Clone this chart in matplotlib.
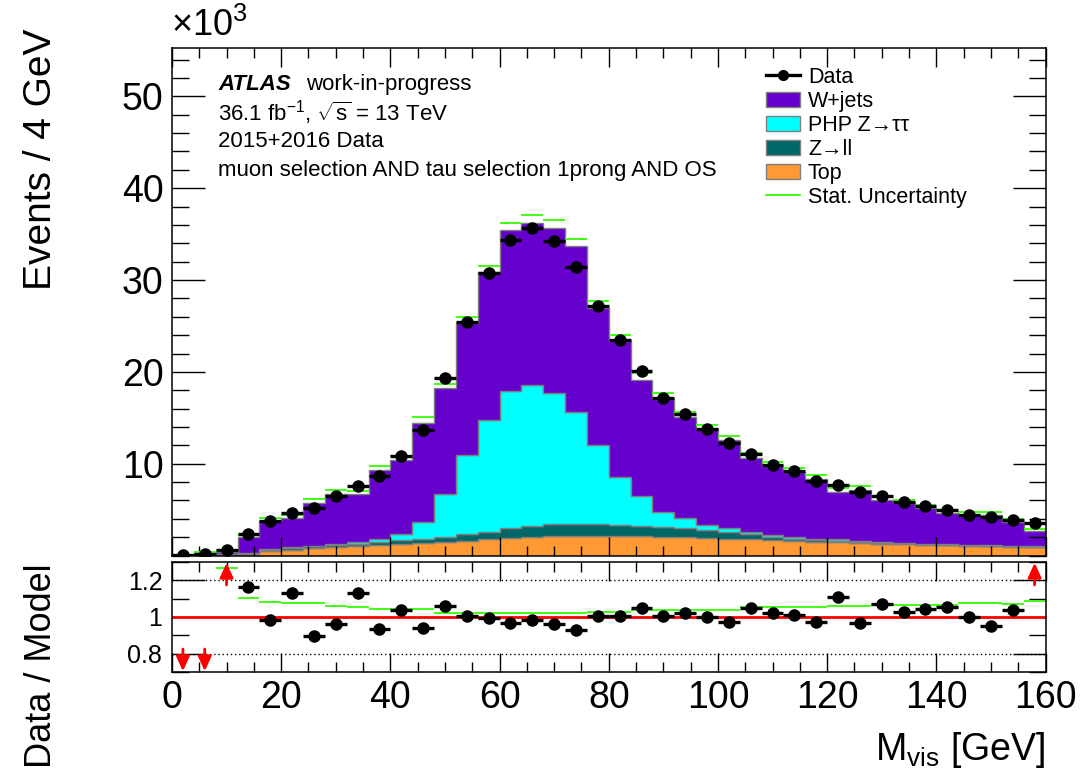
import numpy as np
import matplotlib
matplotlib.use("Agg")
import matplotlib.pyplot as plt
from matplotlib.ticker import MultipleLocator, FixedLocator
from matplotlib.lines import Line2D
from matplotlib.patches import Patch

plt.rcParams['font.family'] = ['Liberation Sans', 'DejaVu Sans']
plt.rcParams['mathtext.fontset'] = 'custom'
plt.rcParams['mathtext.rm'] = 'Liberation Sans'
plt.rcParams['mathtext.it'] = 'Liberation Sans:italic'

# M_vis binning: 40 bins of 4 GeV
edges = np.arange(0, 164, 4)
centers = 0.5 * (edges[:-1] + edges[1:])

# events in units of 10^3
data = [0.02, 0.13, 0.60, 2.36, 3.73, 4.64, 5.18, 6.45, 7.53, 8.70,
        10.79, 13.62, 19.32, 25.47, 30.73, 34.35, 35.62, 34.24, 31.38, 27.17,
        23.48, 20.11, 17.14, 15.43, 13.77, 12.23, 11.09, 9.89, 9.16, 8.15,
        7.68, 6.88, 6.45, 5.84, 5.36, 4.92, 4.46, 4.21, 3.84, 3.55]

top = [0.0, 0.0, 0.05, 0.12, 0.5, 0.65, 0.8, 0.95, 1.05, 1.15,
       1.3, 1.4, 1.5, 1.6, 1.75, 1.95, 2.05, 2.1, 2.15, 2.15,
       2.15, 2.1, 2.05, 2.0, 1.95, 1.85, 1.8, 1.7, 1.6, 1.5,
       1.45, 1.35, 1.3, 1.25, 1.15, 1.1, 1.05, 1.0, 0.95, 0.9]

zll = [0.01, 0.02, 0.05, 0.12, 0.15, 0.18, 0.2, 0.22, 0.25, 0.3,
       0.35, 0.45, 0.55, 0.7, 0.85, 1.05, 1.2, 1.3, 1.3, 1.25,
       1.2, 1.15, 1.1, 1.0, 0.85, 0.75, 0.55, 0.35, 0.25, 0.2,
       0.15, 0.12, 0.1, 0.1, 0.1, 0.08, 0.08, 0.07, 0.07, 0.06]

ztautau = [0.0, 0.0, 0.02, 0.03, 0.05, 0.06, 0.08, 0.1, 0.12, 0.37,
           0.69, 1.83, 4.7, 8.63, 12.18, 14.92, 15.35, 14.29, 12.18, 8.62,
           5.22, 3.22, 1.55, 1.05, 0.52, 0.35, 0.25, 0.2, 0.2, 0.15,
           0.15, 0.1, 0.08, 0.06, 0.05, 0.05, 0.04, 0.04, 0.03, 0.03]

wjets = [0.05, 0.28, 0.28, 1.76, 3.09, 3.22, 4.69, 5.45, 5.23, 7.50,
         8.05, 10.78, 11.49, 14.41, 16.07, 17.53, 17.6, 17.98, 18.11, 14.96,
         14.79, 12.65, 12.35, 11.03, 10.42, 9.59, 7.99, 7.45, 7.01, 6.51,
         5.17, 5.55, 4.53, 4.27, 3.84, 3.43, 3.28, 3.33, 2.65, 1.70]

# relative MC stat. uncertainty
stat_rel = [0.45, 0.35, 0.27, 0.104, 0.083, 0.074, 0.074, 0.06, 0.052, 0.043,
            0.043, 0.043, 0.023, 0.023, 0.023, 0.023, 0.023, 0.023, 0.023, 0.029,
            0.029, 0.038, 0.038, 0.038, 0.038, 0.038, 0.052, 0.052, 0.052, 0.052,
            0.061, 0.061, 0.068, 0.068, 0.065, 0.065, 0.077, 0.077, 0.072, 0.086]

labels = ['W+jets', 'PHP Z→ττ', 'Z→ll', 'Top']
colors = ['#6600cc', '#00ffff', '#006666', '#ff9933']

data = np.array(data)
stack = [np.array(top), np.array(zll), np.array(ztautau), np.array(wjets)]
stack_colors = [colors[3], colors[2], colors[1], colors[0]]
mc = np.sum(stack, axis=0)
rel = np.array(stat_rel)
derr = np.sqrt(data * 1000.0) / 1000.0

fig = plt.figure(figsize=(10.81, 7.81), dpi=100)
ax = fig.add_axes([0.1591, 0.2887, 0.8081, 0.6502])
rax = fig.add_axes([0.1591, 0.1396, 0.8081, 0.1408])

# stacked histogram
base = np.zeros_like(mc)
for vals, c in zip(stack, stack_colors):
    ax.stairs(base + vals, edges, baseline=base, fill=True, facecolor=c,
              edgecolor='#7f7f7f', linewidth=1.0)
    base = base + vals

ax.hlines(mc * (1 + rel), edges[:-1], edges[1:], colors='#33ff00', lw=1.3)
ax.errorbar(centers, data, xerr=2, yerr=derr, fmt='o', color='black',
            ms=8, lw=2.4, capsize=0)

ax.set_xlim(0, 160)
ax.set_ylim(0, 55.3)
ax.xaxis.set_major_locator(MultipleLocator(20))
ax.xaxis.set_minor_locator(MultipleLocator(5))
ax.yaxis.set_major_locator(FixedLocator([10, 20, 30, 40, 50]))
ax.yaxis.set_minor_locator(MultipleLocator(2))
ax.tick_params(axis='x', which='both', labelbottom=False)
ax.tick_params(which='both', direction='in', top=True, right=True, width=1)
ax.tick_params(axis='x', which='major', length=14)
ax.tick_params(axis='x', which='minor', length=7)
ax.tick_params(axis='y', which='major', length=24, labelsize=27, pad=6)
ax.tick_params(axis='y', which='minor', length=12)

ax.text(-0.001, 1.008, r'$\times$10$^{3}$', transform=ax.transAxes,
        fontsize=26, ha='left', va='bottom')

fig.text(0.038, 0.963, 'Events / 4 GeV', rotation=90, fontsize=28,
         ha='center', va='top')
fig.text(0.038, 0.279, 'Data / Model', rotation=90, fontsize=26,
         ha='center', va='top')

# labels
tx = 0.053
fs = 16
ax.text(tx, 0.928, 'ATLAS', transform=ax.transAxes, fontsize=fs,
        fontweight='bold', fontstyle='italic', va='center')
ax.text(tx + 0.100, 0.928, 'work-in-progress', transform=ax.transAxes,
        fontsize=fs, va='center')
ax.text(tx, 0.872, r'36.1 fb$^{-1}$, $\sqrt{\mathrm{s}}$ = 13 TeV',
        transform=ax.transAxes, fontsize=fs, va='center')
ax.text(tx, 0.815, '2015+2016 Data', transform=ax.transAxes, fontsize=fs,
        va='center')
ax.text(tx, 0.758, 'muon selection AND tau selection 1prong AND OS',
        transform=ax.transAxes, fontsize=fs, va='center')

handles = [Line2D([], [], color='black', marker='o', ms=7, lw=2.4)]
for c in colors:
    handles.append(Patch(facecolor=c, edgecolor='#7f7f7f', lw=1))
handles.append(Line2D([], [], color='#33ff00', lw=1.3))
ax.legend(handles, ['Data'] + labels + ['Stat. Uncertainty'],
          loc='upper left', bbox_to_anchor=(0.68, 0.962), frameon=False,
          fontsize=15.5, handlelength=1.6, handleheight=0.75,
          labelspacing=0.14, handletextpad=0.35, borderpad=0,
          borderaxespad=0)

# ratio panel
ratio = data / mc
rerr = derr / mc
rlo, rhi = 0.7, 1.3
rax.axhline(1.0, color='red', lw=2, zorder=2)
rax.axhline(0.8, color='black', lw=1, ls=(0, (1, 2)), zorder=1)
rax.axhline(1.2, color='black', lw=1, ls=(0, (1, 2)), zorder=1)
ok = (ratio > rlo) & (ratio < rhi)
gl = 1 + rel
gok = gl < rhi
rax.hlines(gl[gok], edges[:-1][gok], edges[1:][gok], colors='#33ff00', lw=1.3)
rax.errorbar(centers[ok], ratio[ok], xerr=2, yerr=rerr[ok], fmt='o',
             color='black', ms=8, lw=2.4, capsize=0, zorder=3)
astyle = dict(arrowstyle='-|>,head_length=0.55,head_width=0.25', color='red',
              lw=2, mutation_scale=16, shrinkA=0, shrinkB=0)
for xc, r in zip(centers, ratio):
    if r >= rhi:
        rax.annotate('', xy=(xc, rhi - 0.004), xytext=(xc, rhi - 0.125),
                     arrowprops=astyle)
    elif r <= rlo:
        rax.annotate('', xy=(xc, rlo + 0.004), xytext=(xc, rlo + 0.125),
                     arrowprops=astyle)

rax.set_xlim(0, 160)
rax.set_ylim(rlo, rhi)
rax.xaxis.set_major_locator(MultipleLocator(20))
rax.xaxis.set_minor_locator(MultipleLocator(5))
rax.yaxis.set_major_locator(FixedLocator([0.8, 1.0, 1.2]))
rax.yaxis.set_minor_locator(MultipleLocator(0.1))
rax.set_yticklabels(['0.8', '1', '1.2'])
rax.tick_params(which='both', direction='in', top=True, right=True, width=1)
rax.tick_params(axis='x', which='major', length=14, labelsize=27, pad=6)
rax.tick_params(axis='x', which='minor', length=7)
rax.tick_params(axis='y', which='major', length=24, labelsize=18, pad=7)
rax.tick_params(axis='y', which='minor', length=12)
rax.set_xlabel(r'M$_{\mathrm{vis}}$ [GeV]', fontsize=27, loc='right',
               labelpad=10)

for a in (ax, rax):
    for s in a.spines.values():
        s.set_linewidth(1.1)

fig.savefig('out.png', dpi=100)
